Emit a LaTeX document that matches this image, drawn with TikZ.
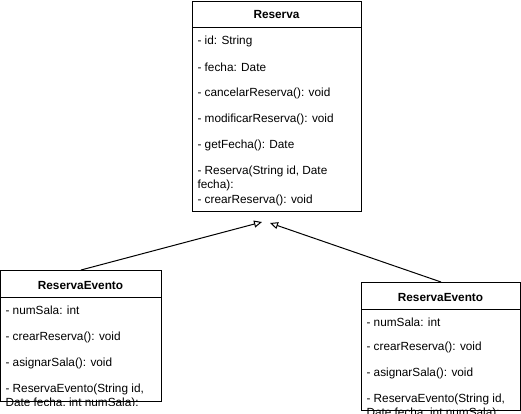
\documentclass[tikz,border=0pt]{standalone}
\usepackage{fontspec}
\setmainfont{Liberation Sans}
\usetikzlibrary{arrows.meta}

\begin{document}
\begin{tikzpicture}[x = 1pt, y = -1pt, line width = 1pt,
  classbox/.style = {draw, inner sep = 0pt, anchor = north west},
  member/.style = {anchor = west, inner sep = 0pt, align = left, font = \fontsize{11.8}{14}\selectfont},
  title/.style = {inner sep = 0pt, font = \fontsize{11.8}{14}\selectfont\bfseries},
  extends/.style = {-{Triangle[open, length = 8pt, width = 7pt]}}]
\useasboundingbox (0, 0) rectangle (521, 414);
% superclass
\node[classbox, minimum width = 169pt, minimum height = 210pt] (reserva) at (192, 1) {};
\draw (192, 28) -- (361, 28);
\node[title] (reservaT) at (276.5, 15) {Reserva};
\node[member] (r1) at (197, 41.5) {- id: String};
\node[member] (r2) at (197, 67.5) {- fecha: Date};
\node[member] (r3) at (197, 93.5) {- cancelarReserva(): void};
\node[member] (r4) at (197, 119.5) {- modificarReserva(): void};
\node[member] (r5) at (197, 145.5) {- getFecha(): Date};
\node[member] (r6) at (197, 178.5) {- Reserva(String id, Date\\fecha):};
\node[member] (r7) at (197, 200.5) {- crearReserva(): void};
% left subclass
\begin{scope}
\clip (-1, 269) rectangle (163, 405);
\node[member] (a1) at (5, 310.5) {- numSala: int};
\node[member] (a2) at (5, 337.5) {- crearReserva(): void};
\node[member] (a3) at (5, 363.5) {- asignarSala(): void};
\node[member] (a4) at (5, 396.5) {- ReservaEvento(String id,\\Date fecha, int numSala):};
\end{scope}
\node[classbox, minimum width = 161pt, minimum height = 131pt] (eventoA) at (0, 270) {};
\draw (0, 297) -- (161, 297);
\node[title] (eventoAT) at (80.5, 285) {ReservaEvento};
% right subclass
\node[member] (b1) at (366, 322.5) {- numSala: int};
\node[member] (b2) at (366, 347.5) {- crearReserva(): void};
\node[member] (b3) at (366, 373.5) {- asignarSala(): void};
\node[member] (b4) at (366, 406.5) {- ReservaEvento(String id,\\Date fecha, int numSala):};
\node[classbox, minimum width = 159pt, minimum height = 128pt] (eventoB) at (361, 282) {};
\draw (361, 309) -- (520, 309);
\node[title] (eventoBT) at (440.5, 297) {ReservaEvento};
% generalisation
\coordinate (tipA) at (262, 222);
\coordinate (tipB) at (270, 223);
\draw[extends] (eventoA.north) -- (tipA);
\draw[extends] (eventoB.north) -- (tipB);
\end{tikzpicture}
\end{document}
